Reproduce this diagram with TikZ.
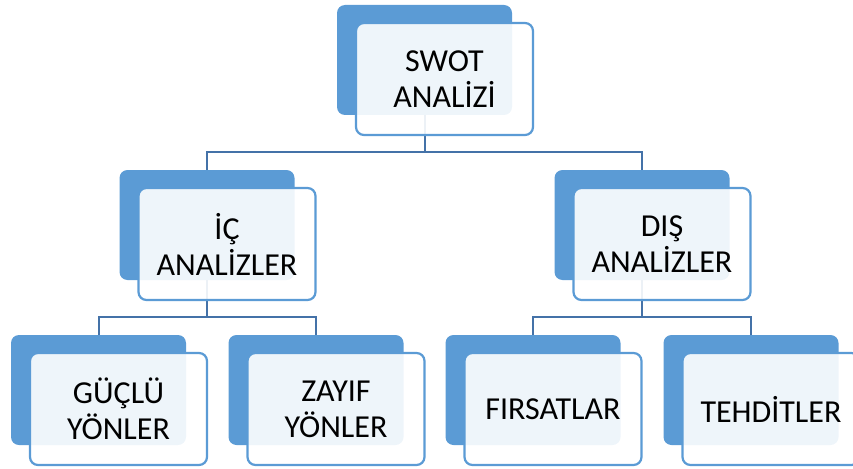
\documentclass[tikz,border=0pt]{standalone}
\usepackage{fontspec}
\setmainfont{Carlito}
\usetikzlibrary{backgrounds}
\definecolor{mavi}{RGB}{91,155,213}
\definecolor{koyumavi}{RGB}{68,114,168}
\begin{document}
\begin{tikzpicture}[x=1pt,y=1pt, line join=round, line cap=round, font=\fontsize{32}{36}\selectfont,
	arka/.style={fill=mavi, rounded corners=8pt, minimum width=175pt, minimum height=110pt, inner sep=0pt},
	on/.style={draw=mavi, line width=2.2pt, fill=white, fill opacity=0.9, text opacity=1, text=black, rounded corners=8pt, minimum width=177pt, minimum height=112pt, align=center, inner sep=0pt, xshift=20pt, yshift=-19pt},
	bag/.style={draw=koyumavi, line width=2pt}]
			\def\ara{37} % kutu alti -> yatay hat
			\useasboundingbox (0,0) rectangle (853,-468);
			% arka kutular
			\node[arka] (swotA) at (424.5,-60) {};
			\node[arka] (icA) at (207,-225) {};
			\node[arka] (disA) at (642,-225) {};
			\node[arka] (gucA) at (98.5,-390) {};
			\node[arka] (zayA) at (316,-390) {};
			\node[arka] (firA) at (533,-390) {};
			\node[arka] (tehA) at (751,-390) {};
			% on kutular
			\node[on] (swot) at (swotA) {SWOT\\ANALİZİ};
			\node[on] (ic) at (icA) {İÇ\\ANALİZLER};
			\node[on] (dis) at (disA) {DIŞ\\ANALİZLER};
			\node[on] (guc) at (gucA) {GÜÇLÜ\\YÖNLER};
			\node[on] (zay) at (zayA) {ZAYIF\\YÖNLER};
			\node[on] (fir) at (firA) {FIRSATLAR};
			\node[on] (teh) at (tehA) {TEHDİTLER};
			% baglantilar
			\begin{scope}[on background layer]
			\draw[bag] (swotA.south) -- ++(0,-\ara) -| (icA.north);
			\draw[bag] (swotA.south) -- ++(0,-\ara) -| (disA.north);
			\draw[bag] (icA.south) -- ++(0,-\ara) -| (gucA.north);
			\draw[bag] (icA.south) -- ++(0,-\ara) -| (zayA.north);
			\draw[bag] (disA.south) -- ++(0,-\ara) -| (firA.north);
			\draw[bag] (disA.south) -- ++(0,-\ara) -| (tehA.north);
			\end{scope}
\end{tikzpicture}
\end{document}
